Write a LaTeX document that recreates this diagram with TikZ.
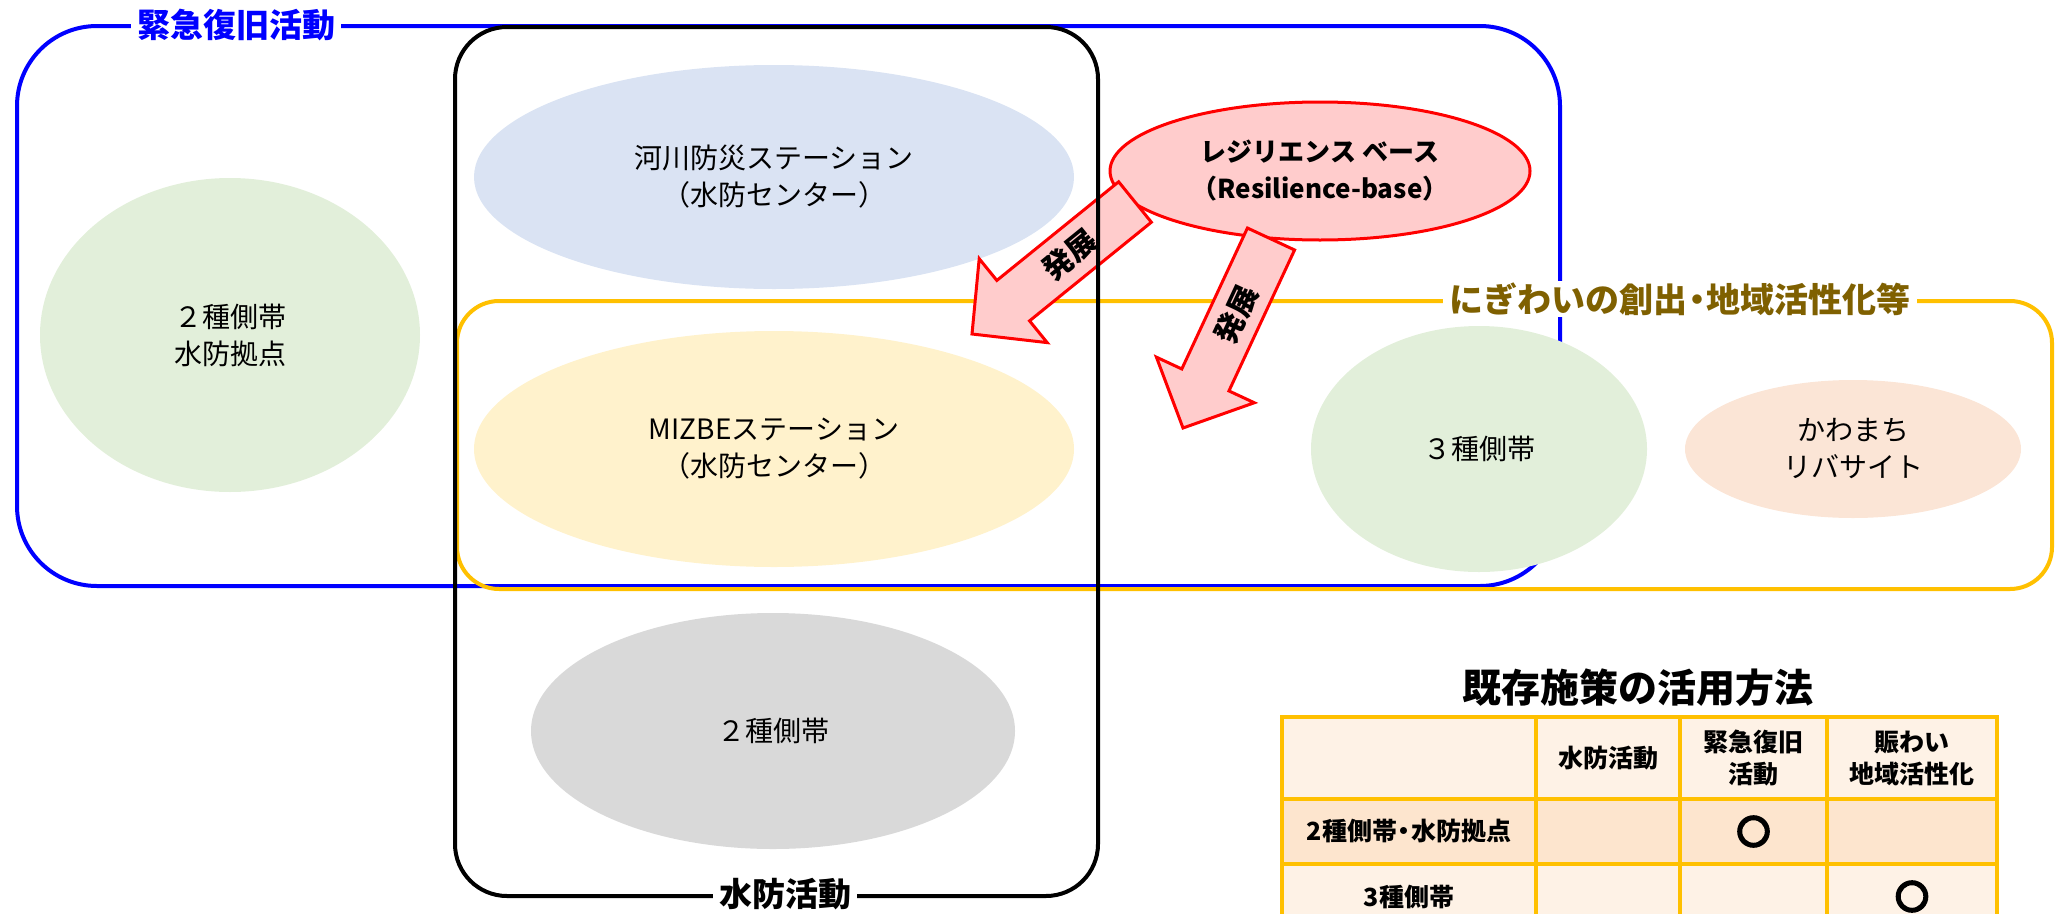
\documentclass[tikz,border=0pt]{standalone}
\usepackage{fontspec}
\setmainfont{Noto Sans CJK JP}
\newfontfamily\okfont[FakeBold=12]{Noto Sans CJK JP}
\newcommand\narrowdot{\kern-0.22em・\kern-0.22em}
\usetikzlibrary{shapes.geometric,calc}
\definecolor{bluefr}{HTML}{0000FF}
\definecolor{goldfr}{HTML}{FFC000}
\definecolor{goldtxt}{HTML}{7F6000}
\definecolor{greenfill}{HTML}{E2EFDA}
\definecolor{bluefill}{HTML}{DAE3F3}
\definecolor{yellowfill}{HTML}{FFF2CC}
\definecolor{grayfill}{HTML}{D9D9D9}
\definecolor{pinkfill}{HTML}{FFCCCC}
\definecolor{peachfill}{HTML}{FBE5D6}
\definecolor{tblhead}{HTML}{FEF2E6}
\definecolor{tblrow}{HTML}{FDE5CE}
\begin{document}
\begin{tikzpicture}[x=1pt,y=-1pt,
  frame/.style={draw, line width=4pt, inner sep=0pt, anchor=north west},
  ell/.style={ellipse, inner sep=0pt, align=center, font=\fontsize{28pt}{37pt}\selectfont},
  lab/.style={fill=white, inner xsep=6pt, inner ysep=2pt, font=\bfseries\fontsize{33pt}{40pt}\selectfont},
  blockarrow/.style={draw=red, fill=pinkfill, line width=3pt, line join=miter},
  arrowtext/.style={font=\bfseries\fontsize{30pt}{34pt}\selectfont, inner sep=0pt},
  cellbox/.style={draw=goldfr, line width=4pt, anchor=north west, inner sep=0pt, align=center, font=\bfseries\fontsize{25pt}{32pt}\selectfont},
  okmark/.style={font=\okfont\fontsize{32pt}{36pt}\selectfont, inner sep=0pt}
]
\useasboundingbox (0,0) rectangle (2058,913);
\clip (0,0) rectangle (2058,913);

% blue frame
\node[frame, draw=bluefr, rounded corners=80pt, minimum width=1543pt, minimum height=560pt] (kinkyu) at (15,24) {};

% ellipses
\node[ell, fill=greenfill, minimum width=380pt, minimum height=314pt] (nishu1) at (230,335) {２種側帯\\水防拠点};
\node[ell, fill=bluefill, minimum width=600pt, minimum height=224pt] (kasen) at (774,177) {河川防災ステーション\\（水防センター）};
\node[ell, fill=yellowfill, minimum width=600pt, minimum height=236pt] (mizbe) at (774,449) {MIZBEステーション\\（水防センター）};
\node[ell, fill=grayfill, minimum width=484pt, minimum height=236pt] (nishu2) at (773,731) {２種側帯};
\node[ell, fill=pinkfill, draw=red, line width=3pt, minimum width=420pt, minimum height=138pt, font=\bfseries\fontsize{26pt}{37pt}\selectfont] (res) at (1320,171) {レジリエンス ベース\\（Resilience-base）};
\node[ell, fill=greenfill, minimum width=336pt, minimum height=246pt] (sanshu) at (1479,449) {３種側帯};
\node[ell, fill=peachfill, minimum width=336pt, minimum height=138pt] (kawamachi) at (1853,449) {かわまち\\リバサイト};

% yellow frame
\node[frame, draw=goldfr, rounded corners=42pt, minimum width=1595pt, minimum height=288pt] (nigiwai) at (455,299) {};

% block arrows
\coordinate (t1) at (1135,202); \coordinate (h1) at (972,334);
\coordinate (t2) at (1271,239); \coordinate (h2) at (1183,428);
\coordinate (b1) at ($(h1)!53pt!(t1)$);
\coordinate (b2) at ($(h2)!53pt!(t2)$);
\draw[blockarrow] ($(t1)!26pt!90:(h1)$) -- ($(b1)!26pt!90:(h1)$) -- ($(b1)!54pt!90:(h1)$) -- (h1)
  -- ($(b1)!54pt!-90:(h1)$) -- ($(b1)!26pt!-90:(h1)$) -- ($(t1)!26pt!-90:(h1)$) -- cycle;
\draw[blockarrow] ($(t2)!26pt!90:(h2)$) -- ($(b2)!26pt!90:(h2)$) -- ($(b2)!54pt!90:(h2)$) -- (h2)
  -- ($(b2)!54pt!-90:(h2)$) -- ($(b2)!26pt!-90:(h2)$) -- ($(t2)!26pt!-90:(h2)$) -- cycle;
\node[arrowtext, rotate=39] (hatten1) at ($(t1)!0.4!(h1)$) {発展};
\node[arrowtext, rotate=65] (hatten2) at ($(t2)!0.4!(h2)$) {発展};

% black frame
\node[frame, draw=black, rounded corners=52pt, minimum width=643pt, minimum height=869pt] (suibou) at (453,25) {};

% frame labels
\node[lab, text=bluefr] (lab1) at (236,25) {緊急復旧活動};
\node[lab, text=goldtxt, font=\bfseries\fontsize{34pt}{40pt}\selectfont] (lab2) at (1680,299) {にぎわいの創出\narrowdot 地域活性化等};
\node[lab, text=black] (lab3) at (785,894) {水防活動};

% table
\node[font=\bfseries\fontsize{39pt}{44pt}\selectfont] (ttl) at (1638,688) {既存施策の活用方法};
\node[cellbox, fill=tblhead, minimum width=254pt, minimum height=82pt] (c00) at (1280,715) {};
\node[cellbox, fill=tblhead, minimum width=144pt, minimum height=82pt] (c01) at (1534,715) {水防活動};
\node[cellbox, fill=tblhead, minimum width=147pt, minimum height=82pt] (c02) at (1678,715) {緊急復旧\\活動};
\node[cellbox, fill=tblhead, minimum width=170pt, minimum height=82pt] (c03) at (1825,715) {賑わい\\地域活性化};
\node[cellbox, fill=tblrow, minimum width=254pt, minimum height=65pt] (c10) at (1280,797) {2種側帯\narrowdot 水防拠点};
\node[cellbox, fill=tblrow, minimum width=144pt, minimum height=65pt] (c11) at (1534,797) {};
\node[cellbox, fill=tblrow, minimum width=147pt, minimum height=65pt] (c12) at (1678,797) {};
\node[cellbox, fill=tblrow, minimum width=170pt, minimum height=65pt] (c13) at (1825,797) {};
\node[cellbox, fill=tblhead, minimum width=254pt, minimum height=65pt] (c20) at (1280,862) {3種側帯};
\node[cellbox, fill=tblhead, minimum width=144pt, minimum height=65pt] (c21) at (1534,862) {};
\node[cellbox, fill=tblhead, minimum width=147pt, minimum height=65pt] (c22) at (1678,862) {};
\node[cellbox, fill=tblhead, minimum width=170pt, minimum height=65pt] (c23) at (1825,862) {};
\node[okmark] (ok1) at (c12.center) {○};
\node[okmark] (ok2) at (c23.center) {○};
\end{tikzpicture}
\end{document}
